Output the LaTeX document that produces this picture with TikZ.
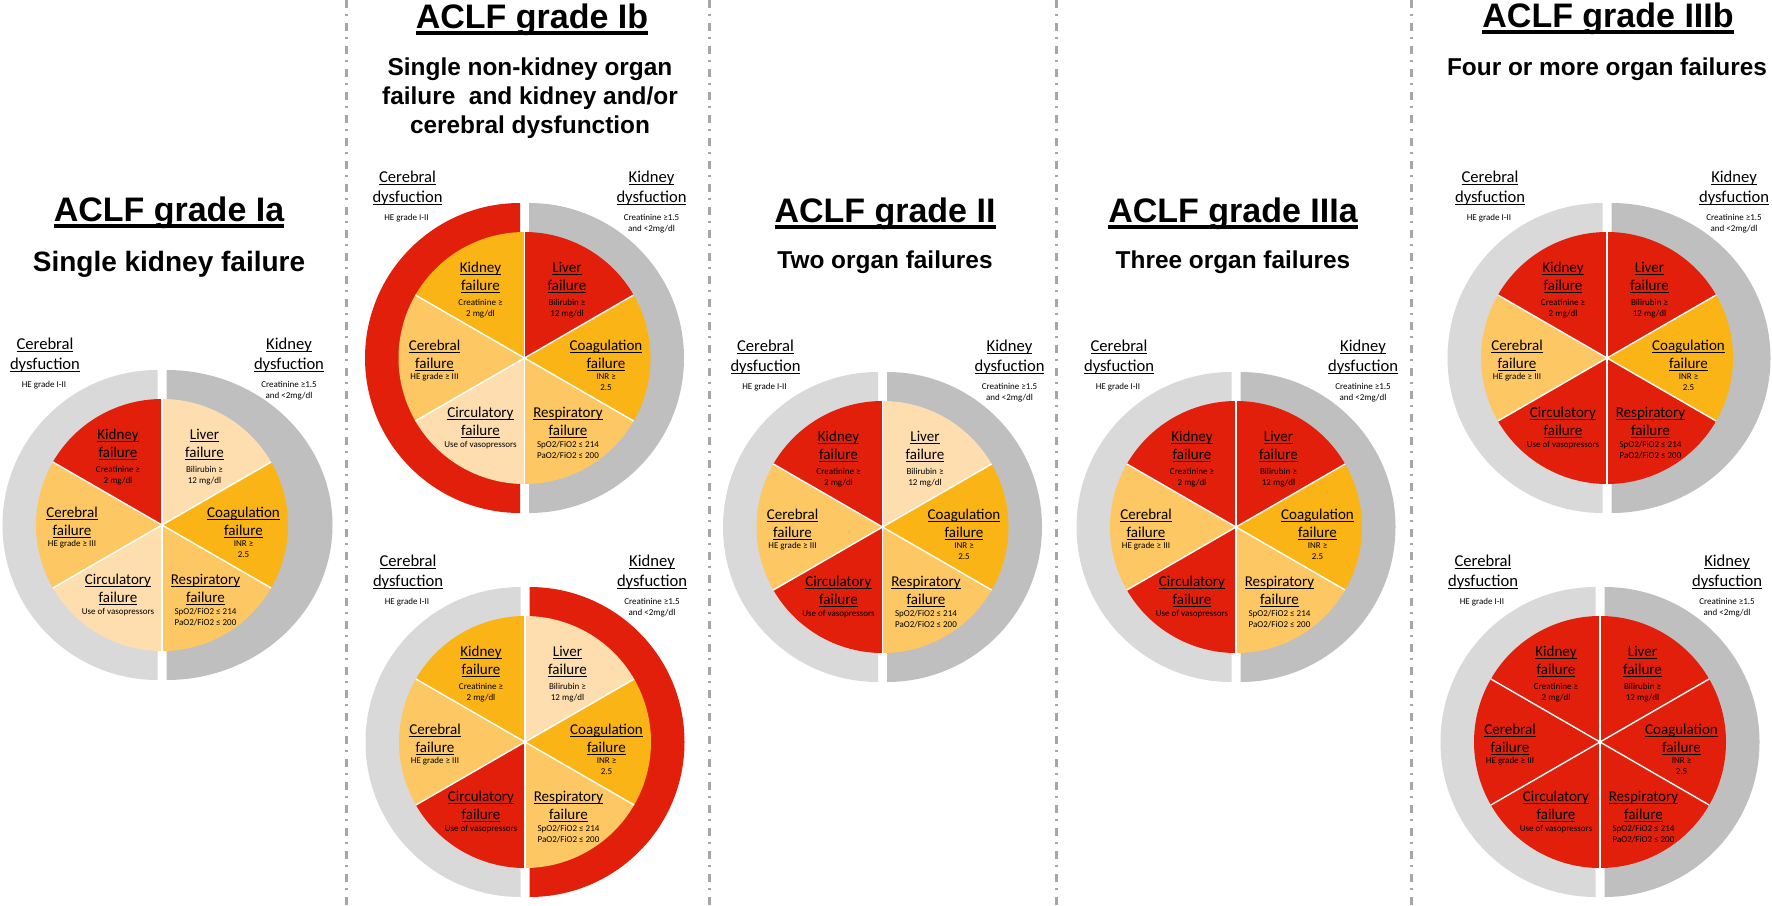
\documentclass[tikz,border=0pt]{standalone}
\usepackage{fontspec}
\setmainfont{Carlito}
\newfontfamily\arialf{Liberation Sans}
\definecolor{cred}{HTML}{E11F0A}
\definecolor{camber}{HTML}{FBB415}
\definecolor{clight}{HTML}{FDC864}
\definecolor{cpeach}{HTML}{FEDEAF}
\definecolor{gLeft}{HTML}{D9D9D9}
\definecolor{gRight}{HTML}{BFBFBF}
\definecolor{divgray}{HTML}{A6A6A6}
\newsavebox\ulbox
\newcommand\ul[1]{\sbox\ulbox{#1}\rlap{\rule[-0.17em]{\wd\ulbox}{0.07em}}\usebox\ulbox}
\newcommand\ulT[1]{\sbox\ulbox{#1}\rlap{\rule[-0.2em]{\wd\ulbox}{0.1em}}\usebox\ulbox}
\newcommand\stack[1]{\begin{tabular}[t]{@{}c@{}}#1\end{tabular}}
\newcommand\fmain{\fontsize{7.5}{9}\selectfont}
\newcommand\fsmall{\fontsize{4.5}{5.5}\selectfont}
\newcommand\fring{\fontsize{8.3}{10}\selectfont}
\newcommand\ftitle{\arialf\bfseries\fontsize{17}{20}\selectfont}
\newcommand\fsubt{\arialf\bfseries\fontsize{12.2}{14.5}\selectfont}
\newcommand\fsubtI{\arialf\bfseries\fontsize{14}{17}\selectfont}
\tikzset{
  mainlbl/.style={font=\fmain, inner sep=0pt, anchor=base},
  sublbl/.style={font=\fsmall, inner sep=0pt, anchor=base},
  ringlbl/.style={font=\fring, inner sep=0pt, anchor=base},
  titlelbl/.style={font=\ftitle, inner sep=0pt, anchor=base},
  subtlbl/.style={font=\fsubt, inner sep=0pt, anchor=base},
  subtIlbl/.style={font=\fsubtI, inner sep=0pt, anchor=base},
  sepline/.style={white, line width=0.7pt},
  divider/.style={divgray, line width=1.5pt, dash pattern=on 4pt off 3pt on 1pt off 3.5pt}
}
\newcommand\setcols[6]{\def\cK{#1}\def\cL{#2}\def\cC{#3}\def\cR{#4}\def\cV{#5}\def\cB{#6}}
\def\rxR{155}
\newcommand\aclfpie[5]{%
\begin{scope}[shift={(#2,#3)}]
  \fill[fill=#4] (-4.5,155) arc[start angle=90,end angle=270,radius=155] -- cycle;
  \fill[fill=#5] (4.5,-155) arc[start angle=-90,end angle=90,x radius=\rxR,y radius=155] -- cycle;
  \fill[fill=\cK] (0,0) -- (-150:126) arc[start angle=-150,end angle=-90,radius=126] -- cycle;
  \fill[fill=\cL] (0,0) -- (-90:126) arc[start angle=-90,end angle=-30,radius=126] -- cycle;
  \fill[fill=\cC] (0,0) -- (-30:126) arc[start angle=-30,end angle=30,radius=126] -- cycle;
  \fill[fill=\cR] (0,0) -- (30:126) arc[start angle=30,end angle=90,radius=126] -- cycle;
  \fill[fill=\cV] (0,0) -- (90:126) arc[start angle=90,end angle=150,radius=126] -- cycle;
  \fill[fill=\cB] (0,0) -- (150:126) arc[start angle=150,end angle=210,radius=126] -- cycle;
  \foreach \a in {30,90,150,210,270,330} \draw[sepline] (0,0) -- (\a:126);
  \node[ringlbl] (#1-cd) at (-117,-176) {\stack{\ul{Cerebral}\\\ul{dysfuction}}};
  \node[sublbl] (#1-cds) at (-118,-138) {HE grade I-II};
  \node[ringlbl] (#1-kd) at (127,-176) {\stack{\ul{Kidney}\\\ul{dysfuction}}};
  \node[sublbl] (#1-kds) at (127,-138) {\stack{Creatinine ≥1.5\\and <2mg/dl}};
  \node[mainlbl] (#1-kt) at (-44,-86) {\stack{\ul{Kidney}\\\ul{failure}}};
  \node[sublbl] (#1-ks) at (-44,-53) {\stack{Creatinine ≥\\2 mg/dl}};
  \node[mainlbl] (#1-lt) at (42.5,-86) {\stack{\ul{Liver}\\\ul{failure}}};
  \node[sublbl] (#1-ls) at (42.5,-53) {\stack{Bilirubin ≥\\12 mg/dl}};
  \node[mainlbl] (#1-bt) at (-90,-8) {\stack{\ul{Cerebral}\\\ul{failure}}};
  \node[sublbl] (#1-bs) at (-90,21) {HE grade ≥ III};
  \node[mainlbl] (#1-ct) at (81.5,-8) {\stack{\ul{Coagulation}\\\ul{failure}}};
  \node[sublbl] (#1-cs) at (81.5,21) {\stack{INR ≥\\2.5}};
  \node[mainlbl] (#1-vt) at (-44,59) {\stack{\ul{Circulatory}\\\ul{failure}}};
  \node[sublbl] (#1-vs) at (-44,89) {Use of vasopressors};
  \node[mainlbl] (#1-rt) at (43.5,59) {\stack{\ul{Respiratory}\\\ul{failure}}};
  \node[sublbl] (#1-rs) at (43.5,89) {\stack{SpO2/FiO2 ≤ 214\\PaO2/FiO2 ≤ 200}};
\end{scope}}
\begin{document}
\begin{tikzpicture}[x=0.5pt,y=-0.5pt]
  \useasboundingbox (0,0) rectangle (1772,905);
  \fill[white] (0,0) rectangle (1772,905);
  % dividers
  \draw[divider] (346,0) -- (346,905);
  \draw[divider] (709,0) -- (709,905);
  \draw[divider] (1056,0) -- (1056,905);
  \draw[divider] (1411,0) -- (1411,905);
  % titles
  \node[titlelbl] (ia-t) at (169,221) {\ulT{ACLF grade Ia}};
  \node[subtIlbl] (ia-s) at (169,271) {Single kidney failure};
  \node[titlelbl] (ib-t) at (532,28) {\ulT{ACLF grade Ib}};
  \node[subtlbl] (ib-s) at (530,75) {\stack{Single non-kidney organ\\failure\ \ and kidney and/or\\cerebral dysfunction}};
  \node[titlelbl] (ii-t) at (885,222) {\ulT{ACLF grade II}};
  \node[subtlbl] (ii-s) at (885,268) {Two organ failures};
  \node[titlelbl] (iiia-t) at (1233,222) {\ulT{ACLF grade IIIa}};
  \node[subtlbl] (iiia-s) at (1233,268) {Three organ failures};
  \node[titlelbl] (iiib-t) at (1608,27) {\ulT{ACLF grade IIIb}};
  \node[subtlbl] (iiib-s) at (1607,75) {Four or more organ failures};
  % pies
  \setcols{cred}{cpeach}{camber}{clight}{cpeach}{clight}
  \def\rxR{166}
  \aclfpie{ia}{162}{525}{gLeft}{gRight}
  \def\rxR{155}
  \setcols{camber}{cred}{camber}{clight}{cpeach}{clight}
  \aclfpie{ibt}{524.5}{358}{cred}{gRight}
  \setcols{camber}{cpeach}{camber}{clight}{cred}{clight}
  \aclfpie{ibb}{525}{742}{gLeft}{cred}
  \setcols{cred}{cpeach}{camber}{clight}{cred}{clight}
  \aclfpie{ii}{882.5}{527}{gLeft}{gRight}
  \setcols{cred}{cred}{camber}{clight}{cred}{clight}
  \aclfpie{iiia}{1236}{527}{gLeft}{gRight}
  \def\rxR{159}
  \setcols{cred}{cred}{camber}{cred}{cred}{clight}
  \aclfpie{iiibt}{1607}{358}{gLeft}{gRight}
  \def\rxR{155}
  \setcols{cred}{cred}{cred}{cred}{cred}{cred}
  \aclfpie{iiibb}{1600}{742}{gLeft}{gRight}
\end{tikzpicture}
\end{document}
